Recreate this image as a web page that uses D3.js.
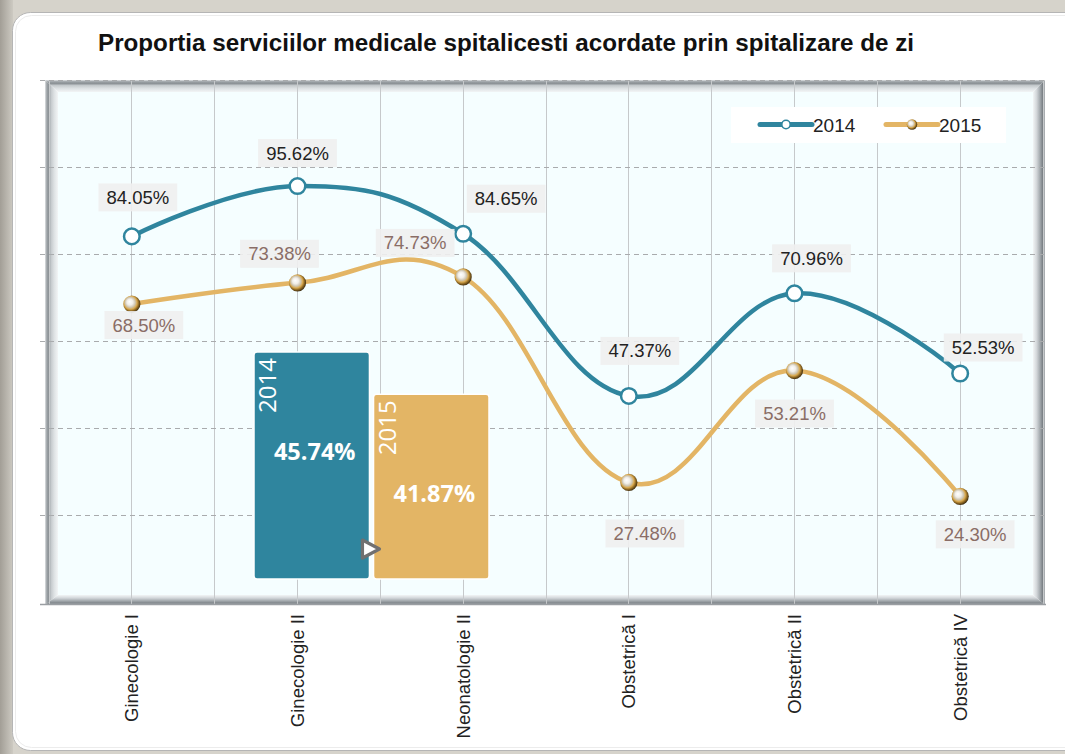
<!DOCTYPE html>
<html>
<head>
<meta charset="utf-8">
<script src="https://cdn.jsdelivr.net/npm/d3@7/dist/d3.min.js"></script>
<style>
  html, body { margin: 0; padding: 0; background: #d3d0c8; }
  svg { display: block; }
</style>
</head>
<body>
<svg id="chart" width="1065" height="754"></svg>
<script>
// ---------------- DATA ----------------
const categories = ["Ginecologie I", "Ginecologie II", "Neonatologie II", "Obstetrică I", "Obstetrică II", "Obstetrică IV"];
const values2014 = [84.05, 95.62, 84.65, 47.37, 70.96, 52.53];
const values2015 = [68.50, 73.38, 74.73, 27.48, 53.21, 24.30];
const seriesNames = ["2014", "2015"];
const summaryValues = [45.74, 41.87];
const yTicks = [0, 20, 40, 60, 80, 100, 120];
const titleText = "Proportia serviciilor medicale spitalicesti acordate prin spitalizare de zi";

// ---------------- LAYOUT / STYLE ----------------
const colors = { "2014": "#2f859e", "2015": "#e3b565" };
const labelColors = { "2014": "#222222", "2015": "#8a6d66" };
// data-label offsets relative to each point (label centre), in px
const labelOffset2014 = [[6, -39], [0, -33], [43, -35], [11, -45], [17, -35], [23, -26]];
const labelOffset2015 = [[12, 21], [-18, -29], [-48, -34], [16, 51], [0, 43], [15, 38]];

const svg = d3.select("#chart");
const defs = svg.append("defs");

// background & panel
const lg = defs.append("linearGradient").attr("id", "leftStrip").attr("x1", 0).attr("x2", 1).attr("y1", 0).attr("y2", 0);
lg.append("stop").attr("offset", 0).attr("stop-color", "#a29e96");
lg.append("stop").attr("offset", 1).attr("stop-color", "#cdcac2");
svg.append("rect").attr("x", 0).attr("y", 0).attr("width", 1065).attr("height", 754).attr("fill", "#d6d3cb");
svg.append("rect").attr("x", 0).attr("y", 0).attr("width", 13).attr("height", 754).attr("fill", "url(#leftStrip)");
svg.append("rect").attr("x", 12.5).attr("y", 12.5).attr("width", 1080).attr("height", 738)
  .attr("rx", 18).attr("fill", "#ffffff").attr("stroke", "#b5b5b5").attr("stroke-width", 1);
svg.append("rect").attr("x", 15.5).attr("y", 15.5).attr("width", 1080).attr("height", 732)
  .attr("rx", 16).attr("fill", "none").attr("stroke", "#ececec").attr("stroke-width", 1);

// title
svg.append("text").attr("x", 506).attr("y", 51).attr("text-anchor", "middle")
  .attr("font-family", "'Liberation Sans', Arial, sans-serif").attr("font-weight", "bold")
  .attr("font-size", 24.2).attr("fill", "#111").text(titleText);

// scales
const x = d3.scaleBand().domain(categories).range([49, 1043]);
const bw = x.bandwidth();
const cx = c => x(c) + bw / 2;
const y = d3.scaleLinear().domain([0, 120]).range([602, 80]);

// ---------------- FRAME ----------------
const fx0 = 45, fx1 = 1045, fy0 = 80, fy1 = 605, ix0 = 58, ix1 = 1033, iy0 = 92, iy1 = 595;
function grad(id, x1, y1, x2, y2, stops) {
  const g = defs.append("linearGradient").attr("id", id).attr("x1", x1).attr("y1", y1).attr("x2", x2).attr("y2", y2);
  stops.forEach(s => g.append("stop").attr("offset", s[0]).attr("stop-color", s[1]));
}
grad("bTop", 0, 0, 0, 1, [[0, "#dfe2e4"], [0.15, "#9aa0a4"], [0.3, "#8c9296"], [0.45, "#c3c8cb"], [0.7, "#dde1e3"], [1, "#f2f5f6"]]);
grad("bLeft", 0, 0, 1, 0, [[0, "#dfe2e4"], [0.15, "#9aa0a4"], [0.3, "#8c9296"], [0.45, "#c3c8cb"], [0.7, "#dde1e3"], [1, "#f2f5f6"]]);
grad("bRight", 0, 0, 1, 0, [[0, "#f2f5f6"], [0.3, "#d3d7da"], [0.55, "#a9afb3"], [0.8, "#7b8186"], [1, "#b4b8bb"]]);
grad("bBot", 0, 0, 0, 1, [[0, "#f2f5f6"], [0.3, "#d3d7da"], [0.55, "#a9afb3"], [0.8, "#80868b"], [1, "#b4b8bb"]]);
const frame = svg.append("g");
frame.append("polygon").attr("points", [[fx0, fy0], [fx1, fy0], [ix1, iy0], [ix0, iy0]].join(" ")).attr("fill", "url(#bTop)");
frame.append("polygon").attr("points", [[fx0, fy0], [ix0, iy0], [ix0, iy1], [fx0, fy1]].join(" ")).attr("fill", "url(#bLeft)");
frame.append("polygon").attr("points", [[fx1, fy0], [fx1, fy1], [ix1, iy1], [ix1, iy0]].join(" ")).attr("fill", "url(#bRight)");
frame.append("polygon").attr("points", [[fx0, fy1], [fx1, fy1], [ix1, iy1], [ix0, iy1]].join(" ")).attr("fill", "url(#bBot)");
frame.append("rect").attr("x", ix0).attr("y", iy0).attr("width", ix1 - ix0).attr("height", iy1 - iy0).attr("fill", "#f5feff");

// ---------------- GRID ----------------
const grid = svg.append("g");
const vLines = d3.range(categories.length * 2 + 1).map(i => x.range()[0] + i * bw / 2);
grid.selectAll("line.v").data(vLines).join("line")
  .attr("x1", d => d).attr("x2", d => d).attr("y1", y(120)).attr("y2", y(0) + 2)
  .attr("stroke", "#c6c9cb").attr("stroke-width", 1).attr("shape-rendering", "crispEdges");
grid.selectAll("line.h").data(yTicks.filter(t => t > 0)).join("line")
  .attr("x1", 40).attr("x2", 1045).attr("y1", d => Math.round(y(d)) + 0.5).attr("y2", d => Math.round(y(d)) + 0.5)
  .attr("stroke", "#a9abad").attr("stroke-width", 1).attr("stroke-dasharray", "5,4");
grid.append("line").attr("x1", 40).attr("x2", 1046).attr("y1", 604.5).attr("y2", 604.5)
  .attr("stroke", "#9a9ea2").attr("stroke-width", 1.5);

// ---------------- X AXIS LABELS ----------------
svg.append("g").selectAll("text").data(categories).join("text")
  .attr("transform", d => `translate(${cx(d)},614) rotate(-90)`)
  .attr("text-anchor", "end").attr("dy", "0.35em")
  .attr("font-family", "'Liberation Sans', Arial, sans-serif").attr("font-size", 18.5)
  .attr("fill", "#222").text(d => d);

// ---------------- SPLINE LINES ----------------
function splinePath(pts) {
  const sm = 1.5, den = sm + 1;
  const ctrl = pts.map((p, i) => {
    if (i === 0 || i === pts.length - 1) return null;
    const a = pts[i - 1], b = pts[i + 1];
    const lx = (sm * p[0] + a[0]) / den, rx = (sm * p[0] + b[0]) / den;
    let ly = (sm * p[1] + a[1]) / den, ry = (sm * p[1] + b[1]) / den;
    const corr = ((ry - ly) * (rx - p[0])) / (rx - lx) + p[1] - ry;
    ly += corr; ry += corr;
    return { lx, ly, rx, ry };
  });
  const path = d3.path();
  path.moveTo(pts[0][0], pts[0][1]);
  for (let i = 1; i < pts.length; i++) {
    const c1 = ctrl[i - 1] ? [ctrl[i - 1].rx, ctrl[i - 1].ry] : pts[i - 1];
    const c2 = ctrl[i] ? [ctrl[i].lx, ctrl[i].ly] : pts[i];
    path.bezierCurveTo(c1[0], c1[1], c2[0], c2[1], pts[i][0], pts[i][1]);
  }
  return path.toString();
}

// marker gradient for 2015
function ballGrad(id) {
  const rg = defs.append("radialGradient").attr("id", id).attr("cx", "45%").attr("cy", "45%").attr("r", "58%").attr("fx", "36%").attr("fy", "36%");
  rg.append("stop").attr("offset", 0).attr("stop-color", "#ffffff");
  rg.append("stop").attr("offset", 0.3).attr("stop-color", "#f1eee8");
  rg.append("stop").attr("offset", 0.5).attr("stop-color", "#cfc6b2");
  rg.append("stop").attr("offset", 0.66).attr("stop-color", "#d8a94f");
  rg.append("stop").attr("offset", 0.82).attr("stop-color", "#8a6420");
  rg.append("stop").attr("offset", 1).attr("stop-color", "#2e220d");
}
ballGrad("ball");
ballGrad("ballSmall");

const series = [
  { name: seriesNames[0], values: values2014, offsets: labelOffset2014 },
  { name: seriesNames[1], values: values2015, offsets: labelOffset2015 }
];

const plot = svg.append("g");
series.slice().reverse().forEach(s => {
  const pts = categories.map((c, i) => [cx(c), y(s.values[i])]);
  plot.append("path").attr("d", splinePath(pts)).attr("fill", "none")
    .attr("stroke", colors[s.name]).attr("stroke-width", 4.5).attr("stroke-linecap", "round");
});
series.slice().reverse().forEach(s => {
  const g = plot.append("g");
  categories.forEach((c, i) => {
    if (s.name === "2014") {
      g.append("circle").attr("cx", cx(c)).attr("cy", y(s.values[i])).attr("r", 7.8)
        .attr("fill", "#ffffff").attr("stroke", colors[s.name]).attr("stroke-width", 2.5);
    } else {
      g.append("circle").attr("cx", cx(c)).attr("cy", y(s.values[i])).attr("r", 8.6)
        .attr("fill", "url(#ball)");
    }
  });
});

// data labels
const fmt = v => v.toFixed(2) + "%";
series.forEach(s => {
  const g = svg.append("g");
  categories.forEach((c, i) => {
    const lx = cx(c) + s.offsets[i][0], ly = y(s.values[i]) + s.offsets[i][1];
    const t = g.append("text").attr("x", lx).attr("y", ly).attr("dy", "0.35em")
      .attr("text-anchor", "middle").attr("font-family", "'Liberation Sans', Arial, sans-serif")
      .attr("font-size", 18.5).attr("fill", labelColors[s.name]).text(fmt(s.values[i]));
    const bb = t.node().getBBox();
    g.insert("rect", "text").attr("x", bb.x - 8).attr("y", ly - 14).attr("width", bb.width + 16).attr("height", 28)
      .attr("fill", "#efefef").attr("opacity", 0.9);
  });
});

// ---------------- LEGEND ----------------
const leg = svg.append("g");
leg.append("rect").attr("x", 731).attr("y", 107).attr("width", 275).attr("height", 36).attr("fill", "#ffffff");
const legX = d3.scalePoint().domain(seriesNames).range([760, 886]);
seriesNames.forEach(n => {
  const lx = legX(n);
  leg.append("line").attr("x1", lx).attr("x2", lx + 52).attr("y1", 124.5).attr("y2", 124.5)
    .attr("stroke", colors[n]).attr("stroke-width", 5).attr("stroke-linecap", "round");
  if (n === "2014") {
    leg.append("circle").attr("cx", lx + 26).attr("cy", 124.5).attr("r", 4.2)
      .attr("fill", "#fff").attr("stroke", colors[n]).attr("stroke-width", 1.6);
  } else {
    leg.append("circle").attr("cx", lx + 26).attr("cy", 124.5).attr("r", 5.2).attr("fill", "url(#ballSmall)");
  }
  leg.append("text").attr("x", lx + 53).attr("y", 131.5)
    .attr("font-family", "'Liberation Sans', Arial, sans-serif").attr("font-size", 19)
    .attr("fill", "#222").text(n);
});

// ---------------- SUMMARY BOXES ----------------
const bx = d3.scaleBand().domain(seriesNames).range([254, 489]).paddingInner(0.034);
const bh = d3.scaleLinear().domain([25, d3.max(summaryValues)]).range([0, 227]);
const boxBottom = 579;
const boxes = svg.append("g");
seriesNames.forEach((n, i) => {
  const h = bh(summaryValues[i]);
  const top = boxBottom - h;
  const left = bx(n);
  boxes.append("rect").attr("x", left).attr("y", top).attr("width", bx.bandwidth()).attr("height", h)
    .attr("rx", 3).attr("fill", colors[n]).attr("stroke", "#ffffff").attr("stroke-width", 1.5);
  boxes.append("text").attr("transform", `translate(${left + 22},${top + 6}) rotate(-90)`)
    .attr("text-anchor", "end").attr("font-family", "'Open Sans', 'Noto Sans', sans-serif")
    .attr("font-size", 24).attr("fill", "#ffffff").text(n);
  boxes.append("text").attr("x", left + bx.bandwidth() / 2 + 3).attr("y", top + 108)
    .attr("text-anchor", "middle").attr("font-family", "'Open Sans', 'Noto Sans', sans-serif")
    .attr("font-weight", "bold").attr("font-size", 23.5).attr("fill", "#ffffff").text(fmt(summaryValues[i]));
});
// play arrow
const ax = bx("2014") + bx.bandwidth() + 1, ay = 549;
boxes.append("path").attr("d", `M${ax - 8},${ay - 9}L${ax + 9},${ay}L${ax - 8},${ay + 9}Z`)
  .attr("fill", "#ffffff").attr("stroke", "#707070").attr("stroke-width", 3.2).attr("stroke-linejoin", "round");
</script>
</body>
</html>
